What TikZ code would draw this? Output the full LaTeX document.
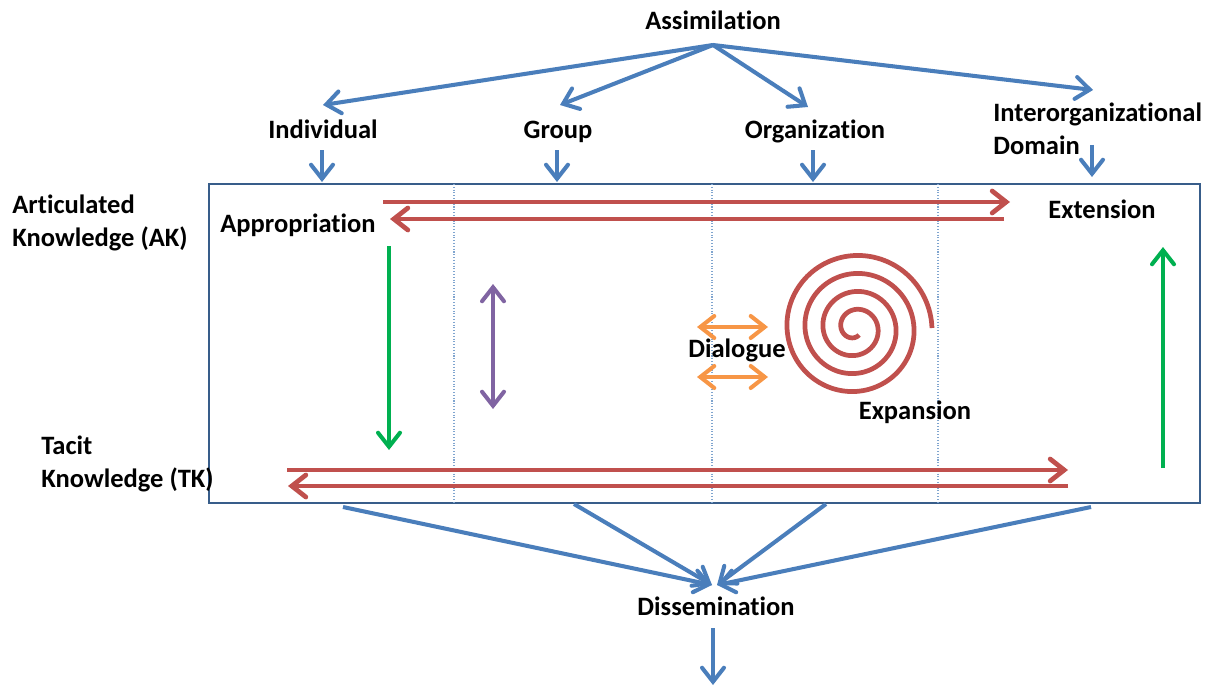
\documentclass[tikz,border=0pt]{standalone}
\usepackage{fontspec}
\setmainfont{Carlito}[Ligatures=NoCommon]
\usetikzlibrary{arrows.meta}

\definecolor{flowblue}{HTML}{4A7EBB}
\definecolor{frameblue}{HTML}{385D8A}
\definecolor{loopred}{HTML}{C0504D}
\definecolor{movegreen}{HTML}{00B050}
\definecolor{reflpurple}{HTML}{8064A2}
\definecolor{talkorange}{HTML}{F79646}

\begin{document}
\begin{tikzpicture}[
  x=0.02cm, y=-0.02cm,
  font=\fontsize{15.1}{18.8}\selectfont\bfseries,
  lbl/.style={inner sep=0pt, anchor=base},
  side/.style={inner sep=0pt, anchor=west, align=left},
  barb/.tip={Straight Barb[length=2.8mm, width=4.4mm, line cap=round]},
  flow/.style={-barb, draw=flowblue, line width=2.3pt},
  loopline/.style={-barb, draw=loopred, line width=2.7pt},
  movearr/.style={-barb, draw=movegreen, line width=2.3pt},
  both/.style={barb-barb, line width=2.3pt},
  divider/.style={draw=flowblue!70, densely dotted, line width=0.6pt}
]
\useasboundingbox (0,0) rectangle (1207,686);

% levels across the top
\node[lbl] (assim) at (713,30) {Assimilation};
\node[lbl] (indiv) at (323,138) {Individual};
\node[lbl] (group) at (558,138) {Group};
\node[lbl] (org) at (815,138) {Organization};
\node[side] (inter) at (993,129) {Interorganizational\\Domain};

% knowledge frame and its columns
\node[draw=frameblue, line width=1.5pt, minimum width=19.82cm,
      minimum height=6.38cm, inner sep=0pt] (frame) at (704.5,343.5) {};
\foreach \cx in {454,712,938}
  \draw[divider] (\cx,184) -- (\cx,503);

\node[side] (ak) at (12,223) {Articulated\\Knowledge (AK)};
\node[side] (tk) at (41,464) {Tacit\\Knowledge (TK)};
\node[lbl] (approp) at (298,232) {Appropriation};
\node[lbl] (ext) at (1102,218) {Extension};
\node[lbl] (dial) at (737,357) {Dialogue};
\node[lbl] (expan) at (915,419) {Expansion};
\node[lbl] (dissem) at (716,615) {Dissemination};

% arrow end points
\coordinate (apex) at (713,45);
\coordinate (toIndiv) at (323,105);
\coordinate (toGroup) at (560,105);
\coordinate (toOrg) at (808,107);
\coordinate (toInter) at (1093,90);
\coordinate (sink) at (712,585);
\coordinate (sinkR) at (717,585);

% assimilation into each level
\draw[flow] (apex) -- (toIndiv);
\draw[flow] (apex) -- (toGroup);
\draw[flow] (apex) -- (toOrg);
\draw[flow] (apex) -- (toInter);
\draw[flow] (322,150) -- (322,182);
\draw[flow] (557,150) -- (557,182);
\draw[flow] (813,150) -- (813,182);
\draw[flow] (1092,145) -- (1092,177);

% dissemination out of the frame
\draw[flow] (343,507) -- (sink);
\draw[flow] (574,504) -- (sink);
\draw[flow] (826,504) -- (sinkR);
\draw[flow] (1091,507) -- (sinkR);
\draw[flow] (713,628) -- (713,685);

% appropriation / extension loops
\draw[loopline] (383,202) -- (1010,202);
\draw[loopline] (1004,219) -- (390,219);
\draw[loopline] (287,470) -- (1068,470);
\draw[loopline] (1068,486) -- (288,486);

% movement between AK and TK
\draw[movearr] (389,246) -- (389,450);
\draw[movearr] (1163,468) -- (1163,247);
\draw[both, draw=reflpurple] (493,284) -- (493,409);
\draw[both, draw=talkorange] (697,327) -- (768,327);
\draw[both, draw=talkorange] (697,377) -- (768,377);

% expansion spiral
\draw[loopred, line width=2.7pt] plot[domain=60:1440, samples=240, smooth]
  ({855+(5+0.05*\x)*cos(\x)}, {328+(5+0.05*\x)*sin(\x)});
\end{tikzpicture}
\end{document}
